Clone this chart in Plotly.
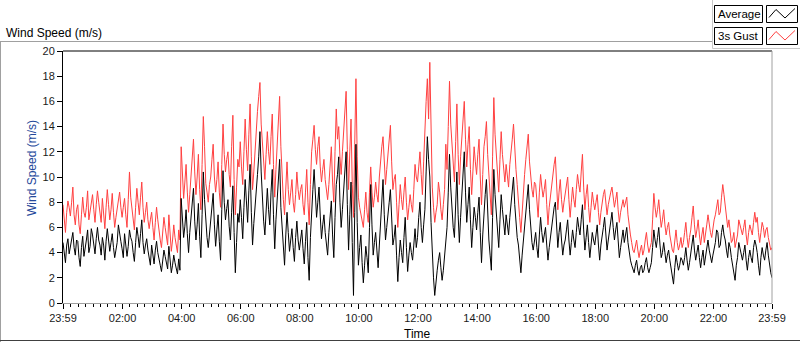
import plotly.graph_objects as go
from datetime import datetime, timedelta

# ---------------- data ----------------
START = "2024-01-01 23:59"
STEP_SECONDS = 150
TICK_LABELS = ["23:59", "02:00", "04:00", "06:00", "08:00", "10:00", "12:00",
               "14:00", "16:00", "18:00", "20:00", "22:00", "23:59"]
Y_TICKS = [0, 2, 4, 6, 8, 10, 12, 14, 16, 18, 20]

# one row per hour after the start, 2.5-minute samples
AVERAGE = [
    4.8, 4.1, 3.2, 4.6, 5.1, 3.9, 4.4, 5.2, 5.6, 4.4, 3.8, 5.0, 4.9, 3.6, 2.9, 4.4, 5.3, 3.7, 4.2, 5.0, 5.8, 4.0, 4.5, 5.9,
    5.4, 4.5, 3.9, 5.1, 6.0, 5.0, 4.6, 3.8, 5.2, 4.6, 3.4, 4.9, 5.9, 5.0, 4.1, 4.8, 5.5, 4.4, 3.6, 4.2, 4.8, 6.2, 5.7, 4.9,
    4.3, 3.6, 5.5, 4.6, 3.7, 4.5, 5.8, 5.2, 4.9, 4.0, 3.3, 4.8, 6.0, 5.3, 4.4, 5.5, 6.6, 4.8, 3.9, 4.6, 5.1, 4.2, 3.5, 3.0,
    4.6, 3.9, 3.1, 4.2, 4.9, 4.0, 3.6, 3.0, 2.5, 3.5, 4.2, 3.7, 3.3, 2.7, 4.5, 3.4, 2.4, 3.0, 3.8, 3.2, 2.8, 2.3, 3.5, 2.6,
    8.3, 6.6, 5.2, 6.1, 7.4, 5.5, 4.0, 5.6, 6.8, 7.6, 9.1, 6.5, 5.0, 6.2, 7.9, 5.3, 3.6, 7.0, 10.4, 8.2, 6.1, 5.2, 4.4, 5.6,
    6.3, 7.6, 8.7, 6.2, 4.5, 5.8, 7.0, 4.9, 3.4, 7.4, 10.5, 8.0, 6.6, 7.5, 8.2, 6.1, 5.0, 7.2, 9.3, 5.6, 2.4, 4.8, 7.1, 6.4,
    8.2, 6.8, 5.1, 7.6, 9.8, 8.1, 6.4, 8.9, 11.0, 7.2, 4.6, 6.3, 7.9, 9.0, 10.2, 11.6, 13.6, 10.4, 8.0, 6.5, 5.4, 7.7, 9.1, 7.4,
    6.2, 8.8, 10.6, 7.0, 4.3, 6.6, 8.4, 9.6, 11.4, 7.6, 5.8, 4.2, 3.0, 5.4, 7.2, 5.6, 4.1, 5.0, 5.9, 4.4, 3.3, 5.2, 6.5, 5.0,
    4.2, 5.0, 5.8, 4.3, 3.1, 4.9, 6.4, 3.6, 1.8, 5.2, 7.9, 9.0, 10.6, 8.4, 6.8, 8.0, 9.2, 6.9, 5.1, 6.2, 7.0, 5.6, 4.6, 3.8,
    5.6, 7.0, 8.1, 5.4, 3.6, 6.8, 9.4, 10.2, 11.6, 8.0, 6.0, 7.4, 8.8, 10.6, 12.0, 7.8, 4.2, 7.0, 9.6, 4.8, 0.6, 7.2, 12.6, 6.4,
    3.0, 4.4, 5.4, 3.2, 1.6, 3.0, 4.5, 3.6, 2.4, 6.0, 9.4, 6.2, 3.8, 4.8, 5.6, 4.2, 2.8, 4.6, 6.3, 8.0, 9.8, 7.0, 5.0, 6.0,
    7.4, 8.0, 9.0, 6.6, 4.6, 5.2, 6.2, 3.8, 1.7, 3.6, 5.0, 4.0, 3.2, 5.2, 6.8, 4.4, 2.5, 3.8, 4.8, 4.0, 3.4, 4.6, 5.9, 4.4,
    5.2, 6.8, 8.0, 6.0, 4.8, 6.2, 7.4, 10.4, 13.2, 11.4, 10.0, 6.4, 3.6, 2.0, 0.6, 1.8, 2.6, 3.4, 4.0, 2.8, 1.8, 2.6, 3.6, 4.8,
    6.0, 8.8, 11.8, 9.2, 7.4, 6.0, 5.2, 8.0, 10.4, 7.0, 4.8, 6.8, 8.8, 10.2, 12.0, 8.8, 6.4, 7.8, 9.2, 6.6, 4.4, 6.0, 7.6, 6.8,
    5.8, 7.2, 8.4, 5.6, 3.2, 5.4, 7.6, 8.6, 9.8, 7.2, 5.0, 3.8, 2.6, 6.8, 10.6, 8.6, 7.0, 5.6, 4.4, 6.6, 8.6, 7.4, 6.2, 5.4,
    7.0, 6.2, 5.4, 6.8, 8.0, 9.0, 10.0, 7.8, 6.2, 5.2, 4.6, 3.4, 2.4, 3.8, 5.0, 6.4, 7.6, 8.4, 9.4, 7.4, 5.8, 4.8, 4.2, 5.0,
    5.6, 4.4, 3.6, 5.4, 6.8, 5.6, 4.8, 5.4, 6.0, 4.6, 3.4, 4.4, 5.2, 6.2, 7.0, 7.6, 8.0, 6.0, 4.4, 5.6, 6.4, 5.0, 3.8, 4.6,
    5.0, 5.8, 6.6, 5.0, 3.8, 4.8, 5.8, 5.0, 4.4, 5.6, 6.8, 6.0, 5.4, 6.6, 7.8, 5.8, 4.2, 5.2, 6.2, 4.8, 3.6, 4.6, 5.6, 5.0,
    4.6, 5.4, 6.2, 4.6, 3.4, 4.6, 5.6, 6.0, 6.8, 5.4, 4.2, 5.0, 5.8, 6.6, 7.2, 6.0, 5.0, 5.8, 6.4, 5.0, 3.6, 4.4, 5.2, 5.8,
    4.8, 5.6, 6.0, 4.8, 3.8, 3.4, 3.0, 2.6, 2.4, 3.0, 3.4, 2.6, 2.2, 2.8, 3.0, 2.4, 2.6, 3.2, 3.6, 2.8, 2.4, 2.8, 3.2, 4.4,
    5.8, 5.0, 4.4, 5.2, 6.0, 4.6, 3.6, 4.0, 4.8, 4.0, 3.2, 3.8, 4.2, 3.4, 2.8, 2.2, 1.5, 2.8, 3.8, 3.2, 2.6, 3.0, 3.6, 3.4,
    3.0, 3.6, 4.4, 3.4, 2.6, 3.2, 4.0, 4.8, 5.4, 4.2, 3.4, 4.0, 4.6, 3.6, 2.8, 3.6, 4.2, 3.0, 3.6, 4.4, 5.0, 4.2, 3.8, 3.2,
    3.8, 4.4, 4.8, 5.8, 5.6, 4.4, 4.6, 5.6, 6.2, 5.4, 5.0, 4.2, 3.6, 4.8, 4.4, 3.6, 3.0, 2.4, 1.8, 3.0, 3.6, 4.8, 4.4, 3.8,
    3.4, 4.0, 4.6, 3.4, 2.6, 3.6, 4.2, 3.6, 3.2, 4.4, 5.0, 4.6, 4.0, 3.0, 2.2, 3.6, 4.4, 3.8, 3.4, 4.2, 4.8, 3.8, 3.0, 2.4, 2.0,
]

GUST = [
    7.8, 6.4, 5.6, 7.2, 8.1, 7.6, 6.9, 8.0, 9.2, 7.0, 6.2, 7.4, 7.8, 6.2, 5.5, 7.0, 8.4, 7.2, 6.8, 7.6, 8.9, 6.6, 7.3, 8.2,
    8.6, 7.4, 6.4, 7.8, 8.9, 8.0, 7.2, 6.4, 8.3, 7.0, 5.9, 7.6, 9.0, 7.8, 6.6, 7.4, 8.7, 7.2, 6.0, 6.8, 7.5, 8.2, 8.8, 7.6,
    6.8, 7.6, 8.3, 7.0, 6.0, 8.2, 10.4, 8.4, 7.6, 6.4, 5.8, 7.6, 9.1, 8.0, 7.0, 8.4, 9.6, 7.6, 6.4, 7.2, 8.0, 6.6, 5.9, 6.6,
    7.2, 6.0, 5.0, 6.4, 7.6, 6.6, 5.6, 5.0, 4.4, 5.6, 6.8, 6.0, 5.2, 4.6, 7.0, 5.4, 4.1, 5.0, 6.2, 5.2, 4.5, 4.0, 5.8, 5.0,
    12.4, 10.0, 8.3, 9.6, 11.0, 8.8, 7.2, 8.6, 10.2, 11.6, 13.0, 10.4, 8.6, 10.0, 11.8, 9.0, 7.4, 11.0, 14.8, 12.4, 9.5, 8.8, 8.0, 9.4,
    10.0, 11.4, 12.6, 10.0, 8.8, 9.8, 11.2, 8.8, 7.6, 11.0, 14.2, 11.8, 10.4, 11.4, 12.0, 10.2, 9.2, 12.4, 14.9, 9.8, 7.0, 9.2, 11.4, 10.8,
    12.8, 10.8, 9.4, 12.0, 14.6, 12.2, 10.5, 13.4, 15.8, 11.6, 9.0, 10.4, 12.2, 13.6, 15.2, 16.4, 17.5, 14.2, 12.6, 10.6, 9.8, 11.8, 13.6, 12.0,
    11.0, 13.2, 15.0, 11.0, 8.4, 10.6, 12.6, 14.0, 16.4, 12.4, 10.0, 8.2, 7.0, 9.4, 11.2, 9.0, 7.8, 8.8, 9.8, 8.0, 7.2, 8.6, 10.4, 9.0,
    8.2, 9.0, 9.4, 7.8, 7.0, 8.8, 10.6, 8.0, 6.2, 9.4, 12.0, 13.0, 14.1, 12.2, 11.0, 12.4, 13.2, 10.8, 9.6, 10.6, 11.4, 9.8, 8.8, 8.2,
    9.4, 11.0, 12.4, 9.6, 8.0, 12.0, 15.4, 13.0, 14.0, 11.6, 10.2, 12.0, 13.8, 15.2, 16.8, 12.2, 9.0, 12.0, 14.6, 9.4, 6.8, 12.6, 17.8, 11.6,
    8.4, 7.6, 7.0, 6.6, 6.0, 7.4, 8.8, 7.2, 6.4, 8.8, 10.8, 8.8, 7.6, 8.4, 9.6, 8.6, 8.0, 10.0, 11.6, 12.4, 13.2, 10.8, 9.4, 10.6,
    11.8, 12.8, 14.1, 11.2, 9.0, 9.8, 10.2, 8.0, 6.0, 7.8, 9.4, 8.2, 7.4, 8.8, 10.0, 8.0, 6.6, 7.6, 8.6, 7.8, 7.2, 9.0, 11.0, 10.0,
    9.6, 10.8, 12.0, 10.2, 8.6, 11.2, 14.0, 16.0, 17.8, 14.6, 19.1, 12.4, 9.2, 7.6, 6.4, 7.2, 7.8, 9.6, 8.8, 7.4, 6.6, 7.8, 9.0, 12.6,
    10.6, 14.0, 17.6, 14.2, 12.4, 10.8, 9.6, 12.8, 15.8, 11.8, 9.4, 11.6, 13.4, 14.8, 16.0, 13.0, 10.8, 12.6, 14.0, 10.6, 8.6, 10.4, 12.4, 11.2,
    10.2, 11.8, 13.0, 10.0, 7.8, 10.2, 12.4, 13.2, 14.4, 11.8, 9.8, 8.2, 7.0, 11.6, 16.3, 13.4, 11.6, 10.0, 8.8, 11.4, 13.6, 11.8, 10.4, 9.6,
    11.0, 10.0, 9.2, 11.0, 12.4, 13.0, 14.2, 12.0, 10.6, 9.4, 8.4, 6.8, 5.6, 7.4, 8.8, 10.2, 11.4, 12.2, 13.4, 11.2, 10.0, 9.0, 8.4, 9.6,
    9.4, 8.0, 6.8, 8.8, 10.2, 9.2, 8.4, 9.0, 9.8, 7.8, 6.2, 7.6, 8.6, 9.6, 10.4, 11.0, 11.6, 9.4, 7.4, 8.8, 9.8, 8.2, 7.2, 8.0,
    8.6, 9.4, 10.0, 8.2, 6.8, 8.0, 9.2, 8.2, 7.6, 9.0, 10.2, 9.4, 8.8, 10.4, 11.8, 9.2, 7.4, 8.6, 9.4, 7.6, 6.4, 7.6, 8.8, 8.0,
    7.4, 8.0, 8.6, 7.2, 6.2, 7.2, 8.0, 8.6, 9.0, 7.8, 7.0, 7.8, 8.4, 8.8, 9.2, 8.2, 7.6, 8.2, 8.8, 7.4, 6.4, 7.2, 7.8, 8.2,
    7.6, 8.0, 8.4, 7.0, 6.0, 5.4, 4.8, 4.2, 4.0, 4.6, 5.0, 4.2, 3.6, 4.2, 4.6, 3.8, 4.2, 5.0, 5.6, 4.6, 4.0, 4.4, 4.8, 6.6,
    8.7, 7.6, 6.8, 7.4, 8.2, 7.0, 6.0, 6.6, 7.4, 6.2, 5.4, 6.0, 6.4, 5.4, 4.6, 4.2, 4.0, 5.0, 5.8, 4.8, 4.2, 4.6, 5.2, 4.4,
    4.8, 5.6, 6.4, 5.2, 4.4, 5.2, 5.8, 6.8, 7.7, 6.2, 5.2, 5.8, 6.6, 5.4, 4.6, 5.4, 6.0, 4.8, 5.4, 6.2, 7.0, 6.2, 5.6, 5.2,
    6.2, 6.6, 7.0, 7.8, 8.2, 7.0, 7.2, 8.4, 9.4, 8.6, 7.8, 6.8, 6.0, 6.6, 5.4, 4.8, 5.0, 5.6, 4.4, 5.0, 5.4, 6.6, 6.2, 5.8,
    5.4, 6.0, 6.6, 5.4, 4.6, 5.6, 6.2, 5.8, 5.4, 6.4, 7.2, 6.4, 6.8, 5.6, 4.8, 5.6, 6.4, 6.0, 5.2, 5.8, 6.0, 5.2, 4.8, 4.2, 4.4,
]

# ---------------- geometry helpers ----------------
W, H = 800, 342
L, R, T, B = 63, 28, 51, 39
PW, PH = W - L - R, H - T - B


def px(x):
    return (x - L) / PW


def py(y):
    return (H - B - y) / PH


t0 = datetime.strptime(START, "%Y-%m-%d %H:%M")
t_avg = [t0 + timedelta(seconds=STEP_SECONDS * i) for i in range(len(AVERAGE))]
t_gust = [t0 + timedelta(seconds=STEP_SECONDS * i) for i in range(len(GUST))]
t_end = t0 + timedelta(hours=24)
day2 = t0.date() + timedelta(days=1)
tickvals = []
for i, lab in enumerate(TICK_LABELS):
    if i == 0:
        tickvals.append(t0)
    elif i == len(TICK_LABELS) - 1:
        tickvals.append(t_end)
    else:
        hh, mm = map(int, lab.split(":"))
        tickvals.append(datetime(day2.year, day2.month, day2.day, hh, mm))

RED = "#ff4040"
FONT = "Liberation Sans"

fig = go.Figure()
fig.add_trace(go.Scatter(x=t_gust, y=GUST, mode="lines", name="3s Gust",
                         line=dict(color=RED, width=1), hoverinfo="skip"))
fig.add_trace(go.Scatter(x=t_avg, y=AVERAGE, mode="lines", name="Average",
                         line=dict(color="black", width=1), hoverinfo="skip"))

fig.update_layout(
    width=W, height=H,
    margin=dict(l=L, r=R, t=T, b=B, pad=0),
    paper_bgcolor="white", plot_bgcolor="white",
    showlegend=False,
    font=dict(family=FONT, size=11, color="#1a1a1a"),
    xaxis=dict(
        type="date", range=[t0, t_end],
        tickmode="array", tickvals=tickvals, ticktext=TICK_LABELS,
        ticks="outside", ticklen=5, tickcolor="black", tickwidth=1,
        showgrid=False, zeroline=False,
        showline=True, linecolor="#a0a0a0", linewidth=1,
        tickfont=dict(family=FONT, size=11, color="#1a1a1a"),
        minor=dict(ticks="outside", ticklen=3, tickcolor="black", tickwidth=1,
                   dtick=15 * 60 * 1000, tick0=datetime(day2.year, day2.month, day2.day, 0, 0),
                   showgrid=False),
        fixedrange=True,
    ),
    yaxis=dict(
        range=[0, 20], tickmode="array", tickvals=Y_TICKS,
        ticks="outside", ticklen=5, tickcolor="black", tickwidth=1,
        showgrid=False, zeroline=False,
        showline=True, linecolor="black", linewidth=1,
        tickfont=dict(family=FONT, size=11, color="#1a1a1a"),
        fixedrange=True,
    ),
)

shapes = []
# plot frame: top (black) and right (gray)
shapes.append(dict(type="line", xref="paper", yref="paper", x0=0, x1=1, y0=1, y1=1,
                   line=dict(color="black", width=1)))
shapes.append(dict(type="line", xref="paper", yref="paper", x0=1, x1=1, y0=0, y1=1,
                   line=dict(color="#a0a0a0", width=1)))
# outer frame
shapes.append(dict(type="line", xref="paper", yref="paper", x0=px(0), x1=px(712),
                   y0=py(41.5), y1=py(41.5), line=dict(color="#a0a0a0", width=1)))
shapes.append(dict(type="line", xref="paper", yref="paper", x0=px(0.5), x1=px(0.5),
                   y0=py(41.5), y1=py(342), line=dict(color="#a0a0a0", width=1)))
shapes.append(dict(type="line", xref="paper", yref="paper", x0=px(0), x1=px(800),
                   y0=py(340.5), y1=py(340.5), line=dict(color="#404040", width=1)))
# legend panel
shapes.append(dict(type="line", xref="paper", yref="paper", x0=px(712.5), x1=px(712.5),
                   y0=py(0), y1=py(48.5), line=dict(color="#c8c8c8", width=1)))
shapes.append(dict(type="line", xref="paper", yref="paper", x0=px(712.5), x1=px(800),
                   y0=py(48.5), y1=py(48.5), line=dict(color="#c8c8c8", width=1)))
for (ytop, ybot, col) in [(5.5, 22.5, "black"), (27.5, 44.5, RED)]:
    shapes.append(dict(type="rect", xref="paper", yref="paper", x0=px(714.5), x1=px(762.5),
                       y0=py(ybot), y1=py(ytop), line=dict(color="black", width=1),
                       fillcolor="white"))
    shapes.append(dict(type="rect", xref="paper", yref="paper", x0=px(766.5), x1=px(797.5),
                       y0=py(ybot), y1=py(ytop), line=dict(color="black", width=1),
                       fillcolor="white"))
    pts = [(769, ytop + 12), (776, ytop + 4), (785, ytop + 12.5), (795, ytop + 3)]
    path = "M " + " L ".join(f"{px(a):.5f},{py(b):.5f}" for a, b in pts)
    shapes.append(dict(type="path", xref="paper", yref="paper", path=path,
                       line=dict(color=col, width=1)))
fig.update_layout(shapes=shapes)

annotations = [
    dict(text="Wind Speed (m/s)", xref="paper", yref="paper", x=px(4), y=py(32.5),
         xanchor="left", yanchor="middle", showarrow=False,
         font=dict(family=FONT, size=12, color="black")),
    dict(text="Average", xref="paper", yref="paper", x=px(716), y=py(14),
         xanchor="left", yanchor="middle", showarrow=False,
         font=dict(family=FONT, size=11.5, color="black")),
    dict(text="3s Gust", xref="paper", yref="paper", x=px(716), y=py(36),
         xanchor="left", yanchor="middle", showarrow=False,
         font=dict(family=FONT, size=11.5, color="black")),
    dict(text="Wind Speed (m/s)", xref="paper", yref="paper", x=px(32), y=py(168),
         xanchor="center", yanchor="middle", textangle=-90, showarrow=False,
         font=dict(family=FONT, size=12, color="#24489a")),
    dict(text="Time", xref="paper", yref="paper", x=px(417), y=py(333.5),
         xanchor="center", yanchor="middle", showarrow=False,
         font=dict(family=FONT, size=12, color="black")),
]
fig.update_layout(annotations=annotations)

fig.write_html("out.html", config={"displayModeBar": False, "staticPlot": True},
               post_script="document.body.style.margin='0';document.body.style.overflow='hidden';")
